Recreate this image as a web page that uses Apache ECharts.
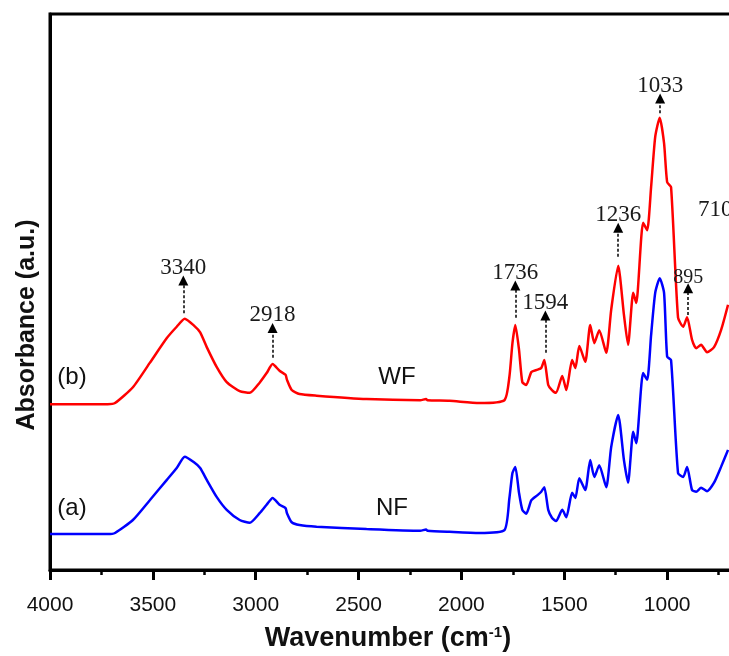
<!DOCTYPE html>
<html>
<head>
<meta charset="utf-8">
<script src="https://cdn.jsdelivr.net/npm/echarts@6/dist/echarts.min.js"></script>
<style>
  * { margin: 0; padding: 0; }
  body { background: #fff; }
  #main { width: 729px; height: 656px; }
</style>
</head>
<body>
<div id="main"></div>
<script type="text/javascript">
// wavenumber (cm-1) sampled along both spectra
var wavenumbers = [4000, 3850, 3720, 3684, 3597, 3515, 3432, 3384, 3345, 3300, 3270, 3238, 3190, 3141, 3078, 3029,
  2981, 2947, 2918, 2884, 2855, 2848, 2825, 2787, 2704, 2461, 2200, 2172, 2165, 2058, 1913, 1791, 1767, 1752,
  1738, 1720, 1704, 1685, 1660, 1630, 1612, 1597, 1578, 1560, 1540, 1510, 1490, 1462, 1446, 1427, 1398, 1374,
  1354, 1330, 1296, 1272, 1238, 1210, 1190, 1165, 1150, 1117, 1097, 1078, 1058, 1036, 1015, 1000, 981, 947,
  922, 903, 879, 859, 835, 806, 772, 738, 704];

// (b) WF - red
var wfValues = [29.7, 29.7, 29.7, 29.9, 32.7, 37.0, 41.4, 43.4, 44.8, 43.6, 42.4, 39.8, 36.3, 33.6, 32.0, 31.7,
  33.5, 35.2, 36.8, 35.6, 34.9, 34.0, 32.2, 31.5, 31.2, 30.6, 30.4, 30.6, 30.4, 30.3, 29.9, 30.4, 34.5, 40.5,
  43.7, 39.3, 33.6, 33.1, 35.4, 35.8, 36.1, 37.5, 33.1, 32.2, 31.7, 34.7, 32.2, 37.5, 36.1, 40.0, 37.2, 43.7,
  40.5, 42.8, 38.8, 46.4, 54.2, 45.5, 40.2, 49.4, 47.6, 61.8, 60.5, 68.1, 77.0, 80.4, 75.9, 69.0, 68.1, 45.0,
  43.4, 45.1, 41.1, 39.6, 40.2, 38.9, 39.8, 42.8, 47.3];

// (a) NF - blue
var nfValues = [6.7, 6.7, 6.7, 6.9, 9.2, 12.7, 16.3, 18.4, 20.4, 19.4, 18.4, 16.3, 13.3, 11.0, 9.2, 8.7,
  10.4, 11.9, 13.1, 11.9, 11.3, 10.4, 8.8, 8.3, 8.0, 7.6, 7.3, 7.5, 7.3, 7.1, 6.9, 7.4, 13.0, 17.5,
  18.6, 14.0, 11.0, 10.3, 12.7, 13.6, 14.2, 15.0, 11.0, 9.6, 9.0, 11.0, 9.7, 14.0, 13.1, 16.6, 14.5, 19.8,
  16.8, 18.9, 15.0, 22.1, 27.8, 19.8, 15.8, 24.8, 22.8, 35.2, 34.0, 41.9, 49.4, 52.0, 49.4, 38.1, 37.5, 17.5,
  16.8, 18.6, 14.5, 14.2, 14.9, 14.3, 15.8, 18.6, 21.6];

// peak annotations (arrow from -> to, in absorbance units)
var peakLabels = ['3340', '2918', '1736', '1594', '1236', '1033', '895'];
var arrowX = [3352, 2918, 1738, 1592, 1238, 1034, 898];
var arrowFrom = [45.8, 37.9, 45.0, 38.8, 55.8, 81.2, 45.5];
var arrowTo = [51.6, 43.2, 50.7, 45.4, 60.9, 83.8, 50.2];

function pairs(ys) {
  return wavenumbers.map(function (w, i) { return [w, ys[i]]; });
}

var arrows = peakLabels.map(function (t, i) {
  var first = { name: t, coord: [arrowX[i], arrowFrom[i]] };
  if (t === '895') first.label = { fontSize: 20 };
  return [first, { coord: [arrowX[i], arrowTo[i]] }];
});

var myChart = echarts.init(document.getElementById('main'), null, { renderer: 'canvas' });

var option = {
  animation: false,
  backgroundColor: '#fff',
  grid: {
    left: 50, right: -41, top: 14, bottom: 86,
    outerBoundsMode: 'none',
    containLabel: false,
    show: true, borderColor: '#000', borderWidth: 3
  },
  xAxis: {
    type: 'value',
    inverse: true,
    min: 500,
    max: 4000,
    interval: 500,
    name: '{b|Wavenumber (cm}{s|-1}{b|)}',
    nameLocation: 'middle',
    nameGap: 55,
    nameTextStyle: {
      padding: [0, 44, 0, 0],
      rich: {
        b: { fontFamily: 'Liberation Sans', fontWeight: 'bold', fontSize: 27, color: '#111', lineHeight: 28 },
        s: { fontFamily: 'Liberation Sans', fontWeight: 'bold', fontSize: 15, color: '#111', verticalAlign: 'top', lineHeight: 28 }
      }
    },
    axisLine: { lineStyle: { color: '#000', width: 3 } },
    axisTick: { length: 10, lineStyle: { color: '#000', width: 3 } },
    minorTick: { show: true, splitNumber: 2, length: 5, lineStyle: { color: '#000', width: 2.5 } },
    axisLabel: {
      fontFamily: 'Liberation Sans', fontSize: 21, color: '#111', margin: 25,
      formatter: function (v) { return String(v); }
    },
    splitLine: { show: false },
    minorSplitLine: { show: false }
  },
  yAxis: {
    type: 'value',
    min: 0.35,
    max: 98.75,
    name: 'Absorbance (a.u.)',
    nameLocation: 'middle',
    nameGap: 10,
    nameTextStyle: {
      fontFamily: 'Liberation Sans', fontWeight: 'bold', fontSize: 25, color: '#111',
      padding: [0, 66, 0, 0]
    },
    axisLine: { show: true, lineStyle: { color: '#000', width: 3 } },
    axisTick: { show: false },
    axisLabel: { show: false },
    splitLine: { show: false }
  },
  series: [
    {
      name: 'WF',
      type: 'line',
      data: pairs(wfValues),
      showSymbol: false,
      smooth: 0.2,
      lineStyle: { color: '#ff0000', width: 2.5 },
      itemStyle: { color: '#ff0000' },
      z: 3,
      markLine: {
        silent: true,
        animation: false,
        symbol: ['none', 'triangle'],
        symbolSize: 10,
        lineStyle: { type: [3, 2], color: '#000', width: 1.5 },
        label: {
          show: true,
          position: 'end',
          distance: 1,
          formatter: function (p) { return p.name; },
          fontFamily: 'Liberation Serif',
          fontSize: 23,
          color: '#1a1a1a'
        },
        data: arrows
      }
    },
    {
      name: 'NF',
      type: 'line',
      data: pairs(nfValues),
      showSymbol: false,
      smooth: 0.2,
      lineStyle: { color: '#0000ff', width: 2.5 },
      itemStyle: { color: '#0000ff' },
      z: 2
    }
  ],
  graphic: [
    { type: 'text', x: 72, y: 377, style: { text: '(b)', font: '24px "Liberation Sans"', fill: '#111', align: 'center', verticalAlign: 'middle' } },
    { type: 'text', x: 72, y: 508, style: { text: '(a)', font: '24px "Liberation Sans"', fill: '#111', align: 'center', verticalAlign: 'middle' } },
    { type: 'text', x: 397, y: 377, style: { text: 'WF', font: '24px "Liberation Sans"', fill: '#111', align: 'center', verticalAlign: 'middle' } },
    { type: 'text', x: 392, y: 508, style: { text: 'NF', font: '24px "Liberation Sans"', fill: '#111', align: 'center', verticalAlign: 'middle' } },
    { type: 'text', x: 698, y: 210, style: { text: '710', font: '23px "Liberation Serif"', fill: '#1a1a1a', align: 'left', verticalAlign: 'middle' } }
  ]
};

myChart.setOption(option);
</script>
</body>
</html>
